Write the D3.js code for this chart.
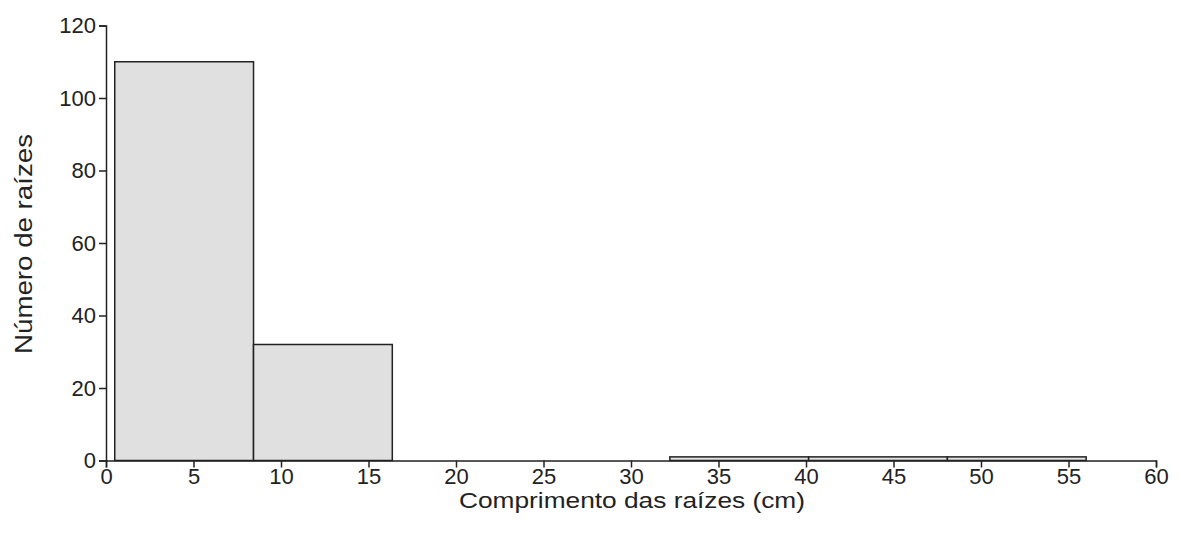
<!DOCTYPE html>
<html>
<head>
<meta charset="utf-8">
<script src="https://cdn.jsdelivr.net/npm/d3@7"></script>
<style>
  body { margin: 0; background: #fff; }
  text { font-family: "Liberation Sans", Arial, sans-serif; fill: #222; }
</style>
</head>
<body>
<script>
// bin edges (cm) and counts per bin
let binEdges = [0.5, 8.43, 16.36, 24.29, 32.22, 40.15, 48.08, 56.01];
let counts = [110, 32, 0, 0, 1, 1, 1];
let xTicks = [0, 5, 10, 15, 20, 25, 30, 35, 40, 45, 50, 55, 60];
let yTicks = [0, 20, 40, 60, 80, 100, 120];

let width = 1181,
    height = 533;

let svg = d3.select("body").append("svg")
    .attr("width", width)
    .attr("height", height);

let x = d3.scaleLinear().domain([0, 60]).range([106, 1156]);
let y = d3.scaleLinear().domain([0, 120]).range([460.5, 25.5]);

let bins = counts.map((c, i) => ({ x0: binEdges[i], x1: binEdges[i + 1], n: c }))
    .filter(d => d.n > 0);

svg.selectAll(".bar")
    .data(bins)
    .enter().append("rect")
    .attr("class", "bar")
    .attr("x", d => x(d.x0))
    .attr("y", d => y(d.n))
    .attr("width", d => x(d.x1) - x(d.x0))
    .attr("height", d => y(0) - y(d.n))
    .attr("fill", "#e0e0e0")
    .attr("stroke", "#222")
    .attr("stroke-width", 1.5)

let xAxis = svg.append("g")
    .attr("transform", `translate(0,${y(0)})`)
    .call(d3.axisBottom(x).tickValues(xTicks).tickSize(7).tickPadding(1))
let yAxis = svg.append("g")
    .attr("transform", `translate(${x(0)},0)`)
    .call(d3.axisLeft(y).tickValues(yTicks).tickSize(7).tickPadding(3))

for (let g of [xAxis, yAxis]) {
    g.attr("font-size", 22).attr("font-family", "'Liberation Sans', Arial, sans-serif")
    g.select(".domain").attr("stroke", "#222").attr("stroke-width", 1.5)
    g.selectAll(".tick line").attr("stroke", "#222").attr("stroke-width", 1.5)
    g.selectAll(".tick text").attr("fill", "#222")
}

svg.append("text")
    .attr("x", 632)
    .attr("y", 508)
    .attr("text-anchor", "middle")
    .attr("font-size", 22)
    .attr("textLength", 346)
    .attr("lengthAdjust", "spacingAndGlyphs")
    .text("Comprimento das raízes (cm)")

svg.append("text")
    .attr("transform", "translate(32,244) rotate(-90)")
    .attr("text-anchor", "middle")
    .attr("font-size", 23)
    .attr("textLength", 220)
    .attr("lengthAdjust", "spacingAndGlyphs")
    .text("Número de raízes")
</script>
</body>
</html>
